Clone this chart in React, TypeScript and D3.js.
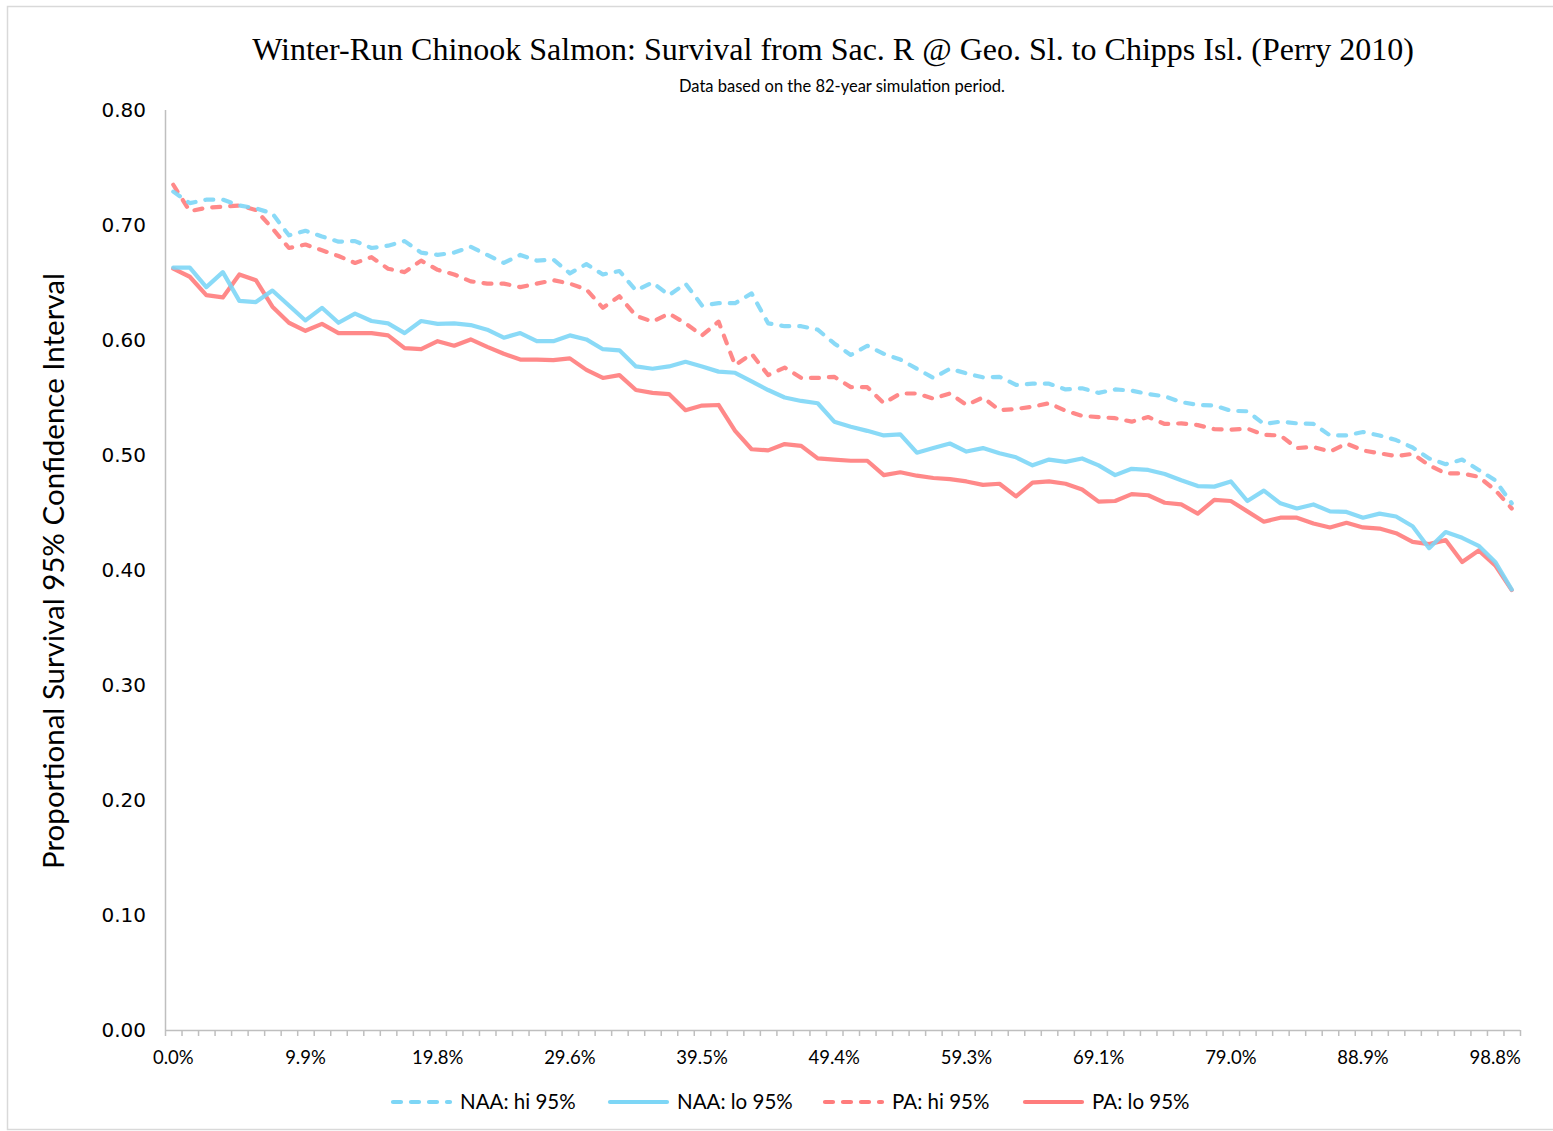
import React, { useEffect, useRef } from "react";
import * as d3 from "d3";

const naaHi = [0.729, 0.719, 0.722, 0.722, 0.717, 0.7145, 0.710, 0.691, 0.695, 0.690, 0.6855, 0.686, 0.680, 0.682, 0.686, 0.676, 0.674, 0.676, 0.681, 0.674, 0.667, 0.674, 0.669, 0.670, 0.658, 0.666, 0.657, 0.660, 0.643, 0.650, 0.639, 0.649, 0.630, 0.632, 0.632, 0.6405, 0.6145, 0.612, 0.612, 0.609, 0.597, 0.587, 0.595, 0.588, 0.583, 0.575, 0.567, 0.575, 0.571, 0.5675, 0.568, 0.561, 0.562, 0.562, 0.557, 0.558, 0.554, 0.557, 0.556, 0.553, 0.551, 0.546, 0.5435, 0.543, 0.5385, 0.538, 0.527, 0.529, 0.5275, 0.527, 0.517, 0.517, 0.520, 0.517, 0.513, 0.5065, 0.497, 0.492, 0.496, 0.487, 0.478, 0.458];
const naaLo = [0.663, 0.663, 0.646, 0.659, 0.634, 0.633, 0.643, 0.630, 0.617, 0.628, 0.615, 0.623, 0.6165, 0.6145, 0.606, 0.6165, 0.614, 0.6145, 0.613, 0.609, 0.602, 0.606, 0.599, 0.599, 0.604, 0.6005, 0.592, 0.591, 0.577, 0.575, 0.577, 0.581, 0.577, 0.5725, 0.5715, 0.564, 0.5565, 0.550, 0.547, 0.545, 0.529, 0.5245, 0.521, 0.517, 0.518, 0.502, 0.506, 0.510, 0.503, 0.506, 0.5015, 0.498, 0.491, 0.496, 0.494, 0.497, 0.491, 0.4825, 0.488, 0.487, 0.4835, 0.478, 0.473, 0.4725, 0.477, 0.460, 0.469, 0.458, 0.4535, 0.457, 0.451, 0.4505, 0.4455, 0.449, 0.4465, 0.438, 0.419, 0.433, 0.428, 0.421, 0.407, 0.383];
const paHi = [0.735, 0.712, 0.715, 0.716, 0.717, 0.713, 0.697, 0.680, 0.683, 0.678, 0.673, 0.667, 0.672, 0.662, 0.659, 0.669, 0.661, 0.657, 0.651, 0.649, 0.649, 0.646, 0.649, 0.652, 0.649, 0.644, 0.628, 0.638, 0.621, 0.616, 0.623, 0.6145, 0.604, 0.616, 0.578, 0.588, 0.5695, 0.576, 0.567, 0.567, 0.568, 0.559, 0.559, 0.545, 0.5535, 0.5535, 0.549, 0.5535, 0.5435, 0.550, 0.539, 0.540, 0.542, 0.545, 0.5385, 0.534, 0.533, 0.532, 0.529, 0.533, 0.527, 0.5275, 0.526, 0.5225, 0.522, 0.523, 0.5175, 0.517, 0.506, 0.507, 0.503, 0.510, 0.504, 0.5015, 0.499, 0.501, 0.491, 0.484, 0.484, 0.481, 0.4695, 0.4535];
const paLo = [0.662, 0.655, 0.639, 0.637, 0.657, 0.652, 0.629, 0.615, 0.608, 0.614, 0.606, 0.606, 0.606, 0.604, 0.593, 0.592, 0.599, 0.595, 0.6005, 0.594, 0.588, 0.583, 0.583, 0.5825, 0.584, 0.574, 0.567, 0.5695, 0.5565, 0.554, 0.553, 0.539, 0.543, 0.5435, 0.521, 0.505, 0.504, 0.5095, 0.508, 0.497, 0.496, 0.495, 0.495, 0.4825, 0.485, 0.482, 0.480, 0.479, 0.477, 0.474, 0.475, 0.464, 0.476, 0.477, 0.475, 0.470, 0.4595, 0.460, 0.466, 0.465, 0.4585, 0.457, 0.449, 0.461, 0.460, 0.451, 0.442, 0.4455, 0.4455, 0.4405, 0.437, 0.441, 0.437, 0.436, 0.432, 0.4245, 0.4225, 0.426, 0.407, 0.417, 0.404, 0.3825];

const categories = naaHi.map((_, i) => ((i / 81) * 100).toFixed(1) + "%");
const yTicks = [0, 0.1, 0.2, 0.3, 0.4, 0.5, 0.6, 0.7, 0.8];

const BLUE = "#7dd6f6";
const RED = "#ff7c7c";

const seriesList = [
  { name: "NAA: hi 95%", values: naaHi, color: BLUE, dashed: true },
  { name: "NAA: lo 95%", values: naaLo, color: BLUE, dashed: false },
  { name: "PA: hi 95%", values: paHi, color: RED, dashed: true },
  { name: "PA: lo 95%", values: paLo, color: RED, dashed: false },
];

const W = 1553, H = 1131;
const M = { left: 165, right: 1520, top: 110, bottom: 1030 };

export default function App() {
  const ref = useRef<SVGSVGElement>(null);
  useEffect(() => {
    const svg = d3.select(ref.current);
    svg.selectAll("*").remove();

    svg.append("rect").attr("x", 7.5).attr("y", 6.5).attr("width", W + 10).attr("height", 1123)
      .attr("fill", "#fff").attr("stroke", "#d9d9d9").attr("stroke-width", 1.5);

    const x = d3.scaleBand<string>().domain(categories).range([M.left, M.right]);
    const y = d3.scaleLinear().domain([0, 0.8]).range([M.bottom, M.top]);

    // title
    svg.append("text").attr("x", 833).attr("y", 60).attr("text-anchor", "middle")
      .attr("font-family", "'Liberation Serif', 'Times New Roman', serif").attr("font-size", 32)
      .attr("fill", "#000").text("Winter-Run Chinook Salmon: Survival from Sac. R @ Geo. Sl. to Chipps Isl. (Perry 2010)");
    svg.append("text").attr("x", 842).attr("y", 92).attr("text-anchor", "middle")
      .attr("font-family", "Lato, 'Open Sans', sans-serif").attr("font-size", 16.5)
      .attr("fill", "#000").text("Data based on the 82-year simulation period.");

    // y axis
    const gy = svg.append("g");
    gy.append("line").attr("x1", M.left + 0.5).attr("x2", M.left + 0.5).attr("y1", M.top).attr("y2", M.bottom)
      .attr("stroke", "#bfbfbf").attr("stroke-width", 1.5);
    gy.selectAll("text.yt").data(yTicks).enter().append("text")
      .attr("x", 146).attr("y", (d) => y(d) + 7).attr("text-anchor", "end")
      .attr("font-family", "'DejaVu Sans', sans-serif").attr("font-size", 20).attr("fill", "#000")
      .text((d) => d3.format(".2f")(d));

    // x axis
    const gx = svg.append("g");
    gx.append("line").attr("x1", M.left).attr("x2", M.right).attr("y1", M.bottom + 0.5).attr("y2", M.bottom + 0.5)
      .attr("stroke", "#bfbfbf").attr("stroke-width", 1.5);
    const boundaries = d3.range(categories.length + 1).map((k) => M.left + k * x.bandwidth());
    gx.selectAll("line.xt").data(boundaries).enter().append("line")
      .attr("x1", (d) => d + 0.5).attr("x2", (d) => d + 0.5).attr("y1", M.bottom).attr("y2", M.bottom + 6)
      .attr("stroke", "#bfbfbf").attr("stroke-width", 1.5);
    gx.selectAll("text.xl").data(categories.filter((_, i) => i % 8 === 0)).enter().append("text")
      .attr("x", (d) => (x(d) as number) + x.bandwidth() / 2).attr("y", 1064).attr("text-anchor", "middle")
      .attr("font-family", "Lato, 'Open Sans', sans-serif").attr("font-size", 18.5).attr("fill", "#000")
      .text((d) => d);

    // y title
    svg.append("text").attr("transform", "translate(64,571) rotate(-90)").attr("text-anchor", "middle")
      .attr("font-family", "Lato, 'Open Sans', sans-serif").attr("font-size", 29.5).attr("fill", "#000")
      .text("Proportional Survival 95% Confidence Interval");

    // lines
    const line = d3.line<number>()
      .x((_, i) => (x(categories[i]) as number) + x.bandwidth() / 2)
      .y((d) => y(d));
    const order = [seriesList[2], seriesList[0], seriesList[3], seriesList[1]];
    order.forEach((s) => {
      svg.append("path").attr("d", line(s.values) as string).attr("fill", "none")
        .attr("stroke", s.color).attr("stroke-width", 4.2).attr("stroke-opacity", 0.9)
        .attr("stroke-linejoin", "round").attr("stroke-linecap", "round")
        .attr("stroke-dasharray", s.dashed ? "8,10" : null);
    });

    // legend
    const legX = [393, 610, 825, 1025];
    seriesList.forEach((s, i) => {
      const g = svg.append("g");
      g.append("line").attr("x1", legX[i]).attr("x2", legX[i] + 57).attr("y1", 1102).attr("y2", 1102)
        .attr("stroke", s.color).attr("stroke-width", 4.2).attr("stroke-linecap", "round")
        .attr("stroke-dasharray", s.dashed ? "8,10" : null);
      g.append("text").attr("x", legX[i] + 67).attr("y", 1109)
        .attr("font-family", "Lato, 'Open Sans', sans-serif").attr("font-size", 20.5).attr("fill", "#000")
        .text(s.name);
    });
  }, []);
  return (
    <svg ref={ref} width={W} height={H} style={{ position: "absolute", left: 0, top: 0, background: "#fff" }} />
  );
}
